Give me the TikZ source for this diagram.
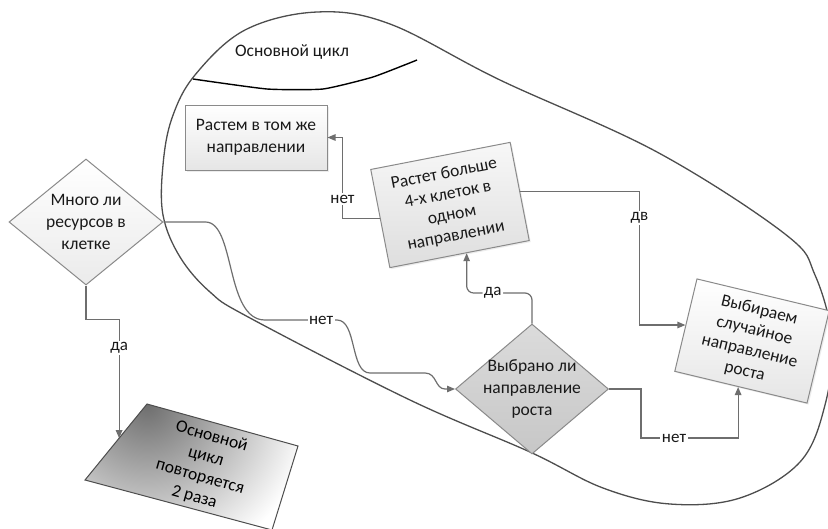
\documentclass[tikz,border=0pt]{standalone}
\usepackage{fontspec}
\setmainfont{Carlito}
\usetikzlibrary{shapes.geometric,arrows.meta,calc,shadows}
\definecolor{lnc}{HTML}{6E6E6E}
\definecolor{outl}{HTML}{4D4D4D}
\definecolor{brd}{HTML}{8A8A8A}
\begin{document}
\begin{tikzpicture}[x=1pt,y=-1pt,
  txt/.style={font=\fontsize{17.5}{22}\selectfont, align=center, text=black!90},
  conn/.style={draw=lnc, line width=1.2pt, -{Triangle[length=8pt,width=6.5pt]}},
  lab/.style={fill=white, inner sep=1.5pt, font=\fontsize{17}{20}\selectfont, text=black!90},
  boxa/.style={draw=brd, line width=1pt, top color=white, bottom color=black!10, txt, inner sep=1pt,
    drop shadow={opacity=0.15, shadow xshift=1.5pt, shadow yshift=-1.5pt}},
  dia/.style={diamond, draw=brd, line width=1pt, inner sep=0pt},
]
\useasboundingbox (0,0) rectangle (828,528);
\clip (0,0) rectangle (828,528);
% main loop outline
\draw[outl, line width=1.3pt, fill=white] plot[smooth cycle, tension=0.6] coordinates {
  (317,12) (390,24) (500,80) (657,152) (785,234) (815,275) (832,340) (825,405)
  (800,462) (740,498) (670,504) (603,488) (530,452) (410,400) (250,318) (210,292)
  (180,257) (163,215) (163,165) (172,118) (195,75) (245,30)};
\node[txt] (title) at (292,52) {Основной цикл};
\draw[black, line width=1.4pt] plot[smooth, tension=0.3] coordinates {(193,79) (267,89) (323,89) (373,77) (417,60)};

% boxes
\node[boxa, minimum width=142pt, minimum height=65pt] (b1) at (256,137.5) {Растем в том же\\направлении};
\node[boxa, rotate=11, minimum width=142pt, minimum height=100pt, top color=black!3, bottom color=black!13, font=\fontsize{17.5}{21}\selectfont] (b2) at (450,205) {Растет больше\\4-х клеток в\\одном\\направлении};
\node[boxa, rotate=-13.5, minimum width=136pt, minimum height=95pt, font=\fontsize{17.5}{21}\selectfont] (b3) at (752,341) {Выбираем\\случайное\\направление\\роста};

% diamonds
\node[dia, minimum width=154pt, minimum height=126pt, top color=white, bottom color=black!8] (d1) at (86,222) {};
\node[txt] (t1) at (d1.center) {Много ли\\ресурсов в\\клетке};
\node[dia, minimum width=153pt, minimum height=130pt, top color=black!14, bottom color=black!22] (d2) at (532,389) {};
\node[txt] (t2) at (d2.center) {Выбрано ли\\направление\\роста};

% bottom box in perspective
\coordinate (pT) at (147,404);
\coordinate (pR) at (298,446);
\coordinate (pB) at (272,530);
\coordinate (pL) at (85,480);
\begin{scope}
  \clip (pT) -- (pR) -- (pB) -- (pL) -- cycle;
  \shade[inner color=black!57, outer color=white] (pT) circle[radius=165];
\end{scope}
\draw[outl, line width=1pt] (pT) -- (pR) -- (pB) -- (pL) -- cycle;
\node[txt, text=black, rotate=-16, font=\fontsize{17.5}{21}\selectfont] (t3) at (203,467) {Основной\\цикл\\повторяется\\2 раза};

% connectors
\coordinate (n1) at ($(b1.east)+(15,0)$);
\draw[conn] (b2.west) -| node[lab, pos=0.62]{нет} (n1) -- (b1.east);

\coordinate (w0) at ($(d1.east)+(42,0)$);
\coordinate (w1) at (265,320);
\coordinate (w2) at (337,320);
\coordinate (w3) at (370,373);
\coordinate (w4) at (425,373);
\coordinate (w5) at ($(d2.west)+(-10,0)$);
\draw[conn] (d1.east) -- (w0) .. controls +(30,0) and +(-40,0) .. (w1) -- node[lab, pos=0.78]{нет} (w2)
  .. controls +(20,0) and +(-20,0) .. (w3) -- (w4) .. controls +(12,0) and +(-10,0) .. (w5) -- (d2.west);

\coordinate (pin) at ($(pT)!0.45!(pL)$);
\coordinate (j0) at ($(d1.south)+(0,34)$);
\draw[conn] (d1.south) -- (j0) -| node[lab, pos=0.62]{да} (pin);

\coordinate (b2in) at ($(b2.south west)!0.55!(b2.south east)$);
\coordinate (h1) at (0,293);
\coordinate (j1) at (b2in |- h1);
\draw[conn, rounded corners=7pt] (d2.north) |- node[lab, pos=0.8]{да} (j1) -- (b2in);

\coordinate (j2) at ($(b3.west)+(-46,0)$);
\draw[conn] (b2.east) -| node[lab, pos=0.6]{дв} (j2) -- (b3.west);

\coordinate (b3in) at ($(b3.south west)!0.48!(b3.south east)$);
\coordinate (j3) at ($(d2.east)+(32,0)$);
\coordinate (h2) at (0,438);
\coordinate (j4) at (b3in |- h2);
\draw[conn] (d2.east) -- (j3) |- node[lab, pos=0.67]{нет} (j4) -- (b3in);
\end{tikzpicture}
\end{document}
